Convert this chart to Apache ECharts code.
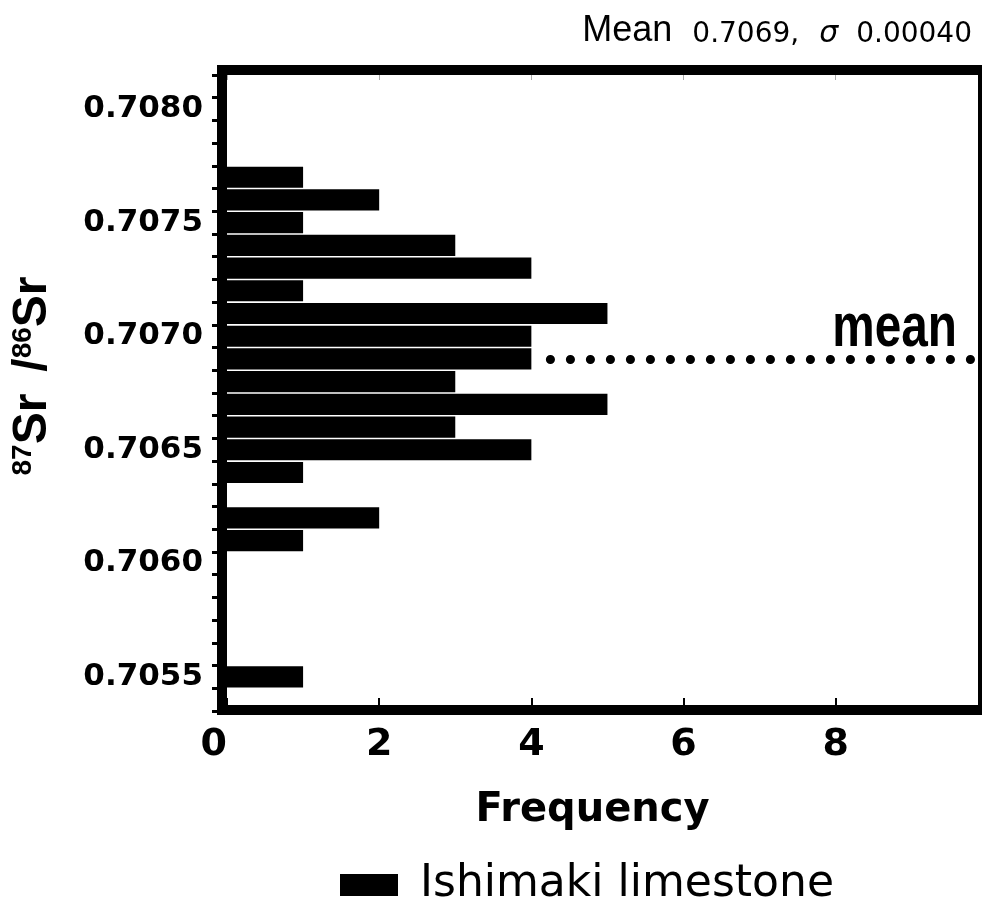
<!DOCTYPE html>
<html>
<head>
<meta charset="utf-8">
<script src="https://cdn.jsdelivr.net/npm/echarts@6/dist/echarts.min.js"></script>
<style>
html, body { margin: 0; padding: 0; background: #fff; }
#chart { width: 982px; height: 903px; }
</style>
</head>
<body>
<div id="chart"></div>
<script>
// 87Sr/86Sr bins (bottom to top) and their frequencies
var ratios = ['0.7054', '0.7055', '0.7056', '0.7057', '0.7058', '0.7059', '0.7060',
    '0.7061', '0.7062', '0.7063', '0.7064', '0.7065', '0.7066', '0.7067', '0.7068',
    '0.7069', '0.7070', '0.7071', '0.7072', '0.7073', '0.7074', '0.7075', '0.7076',
    '0.7077', '0.7078', '0.7079', '0.7080', '0.7081'];
var counts = [0, 1, 0, 0, 0, 0, 0,
    1, 2, 0, 1, 4, 3, 5, 3,
    4, 4, 5, 1, 4, 3, 1, 2,
    1, 0, 0, 0, 0];
var ratioLabels = ['0.7055', '0.7060', '0.7065', '0.7070', '0.7075', '0.7080'];
var freqLabels = [0, 2, 4, 6, 8];
var freqMax = 9.87;
var meanRatio = '0.7069';
var meanText = '0.7069,';
var sigmaText = '0.00040';
var meanLineFrom = 4.25;
var seriesName = 'Ishimaki limestone';

var gridLeft = 227, gridTop = 75, gridRight = 4, gridBottom = 192;
var W = 982, H = 903, frameW = 10;

var myChart = echarts.init(document.getElementById('chart'));

var frame = {
    id: 'frame',
    type: 'rect',
    z: 100,
    silent: true,
    shape: {
        x: gridLeft - frameW / 2,
        y: gridTop - frameW / 2,
        width: (W - gridRight + frameW / 2) - (gridLeft - frameW / 2),
        height: (H - gridBottom - 1) - (gridTop - frameW / 2)
    },
    style: { fill: null, stroke: '#000', lineWidth: frameW }
};

var yName = {
    id: 'yname',
    type: 'text',
    x: 33,
    y: 376,
    rotation: Math.PI / 2,
    style: {
        text: '{sup|87}{big|Sr}{gap|}{big|/}{sup|86}{big|Sr}',
        align: 'center',
        verticalAlign: 'middle',
        fill: '#000',
        rich: {
            big: { fontFamily: 'Liberation Sans', fontWeight: 'bold', fontSize: 48, verticalAlign: 'bottom', fill: '#000' },
            sup: { fontFamily: 'Liberation Sans', fontWeight: 'bold', fontSize: 28, verticalAlign: 'top', fill: '#000' },
            gap: { width: 22, fontSize: 48 }
        }
    }
};

var option = {
    animation: false,
    backgroundColor: '#fff',
    title: {
        text: '{m|Mean}{v|' + meanText + '}{s|σ}{n|' + sigmaText + '}',
        right: 5,
        top: 8,
        textStyle: {
            rich: {
                m: { fontFamily: 'Liberation Sans', fontWeight: 'normal', fontSize: 36, color: '#000', padding: [0, 20, 0, 0], verticalAlign: 'bottom' },
                v: { fontFamily: 'DejaVu Sans', fontWeight: 'normal', fontSize: 28, color: '#000', padding: [0, 20, 0, 0], verticalAlign: 'bottom' },
                s: { fontFamily: 'DejaVu Sans', fontWeight: 'normal', fontStyle: 'italic', fontSize: 30, color: '#000', padding: [0, 18, 0, 0], verticalAlign: 'bottom' },
                n: { fontFamily: 'DejaVu Sans', fontWeight: 'normal', fontSize: 28, color: '#000', verticalAlign: 'bottom' }
            }
        }
    },
    legend: {
        data: [seriesName],
        left: 335,
        top: 858,
        icon: 'rect',
        itemWidth: 58,
        itemHeight: 22,
        textStyle: { fontFamily: 'DejaVu Sans', fontSize: 44, color: '#000', padding: [0, 0, 0, 17] }
    },
    grid: { left: gridLeft, top: gridTop, right: gridRight, bottom: gridBottom, containLabel: false },
    xAxis: [{
        type: 'value',
        min: 0,
        max: freqMax,
        interval: 2,
        name: 'Frequency',
        nameLocation: 'middle',
        nameGap: 80,
        nameTextStyle: { fontFamily: 'DejaVu Sans', fontWeight: 'bold', fontSize: 40, color: '#000', padding: [0, 20, 0, 0] },
        splitLine: { show: false },
        axisLine: { show: false },
        axisTick: { show: true, inside: true, length: 13, lineStyle: { color: '#000', width: 2 } },
        axisLabel: {
            margin: 15,
            fontFamily: 'DejaVu Sans',
            fontWeight: 'bold',
            fontSize: 38,
            color: '#000',
            showMaxLabel: false,
            alignMinLabel: 'right',
            formatter: function (v) { return freqLabels.indexOf(v) >= 0 ? String(v) : ''; }
        }
    }, {
        type: 'value',
        position: 'top',
        min: 0,
        max: freqMax,
        interval: 2,
        splitLine: { show: false },
        axisLine: { show: false },
        axisTick: { show: true, inside: true, length: 5, lineStyle: { color: '#aaa', width: 1 } },
        axisLabel: { show: false }
    }],
    yAxis: {
        type: 'category',
        data: ratios,
        axisLine: { show: false },
        axisTick: { show: true, interval: 0, length: 15, lineStyle: { color: '#000', width: 3 } },
        axisLabel: {
            interval: function (idx, val) { return ratioLabels.indexOf(val) >= 0; },
            margin: 24,
            fontFamily: 'DejaVu Sans',
            fontWeight: 'bold',
            fontSize: 31,
            color: '#000'
        },
        splitLine: { show: false }
    },
    series: [{
        name: seriesName,
        type: 'bar',
        data: counts,
        barCategoryGap: '7%',
        itemStyle: { color: '#000' },
        markLine: {
            silent: true,
            symbol: 'none',
            label: { show: false },
            lineStyle: { color: '#000', width: 9, type: [0.1, 19.9], cap: 'round' },
            data: [[{ coord: [meanLineFrom, meanRatio] }, { coord: [freqMax, meanRatio] }]]
        }
    }],
    graphic: [frame, yName]
};

myChart.setOption(option);

// "mean" tag placed above the right end of the mean line
var p = myChart.convertToPixel({ seriesIndex: 0 }, [freqMax, meanRatio]);
myChart.setOption({
    graphic: [frame, yName, {
        id: 'meantag',
        type: 'text',
        x: p[0] - 21,
        y: p[1] - 30,
        scaleX: 0.77,
        style: {
            text: 'mean',
            align: 'right',
            verticalAlign: 'middle',
            fontFamily: 'Liberation Sans',
            fontWeight: 'bold',
            fontSize: 62,
            fill: '#000'
        }
    }]
});

window.onresize = function () {
    myChart.resize();
};
</script>
</body>
</html>
